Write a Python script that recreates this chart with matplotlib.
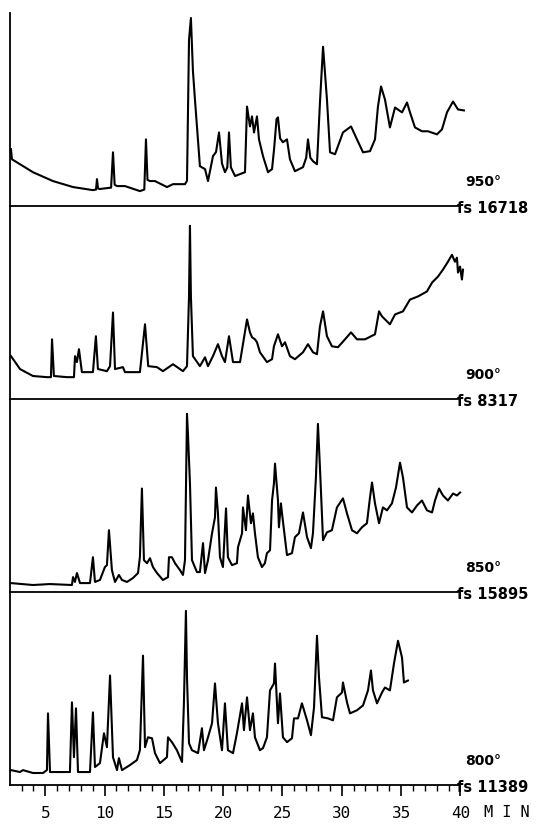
import numpy as np
import matplotlib
matplotlib.use("Agg")
import matplotlib.pyplot as plt

# retention time (min) and signal (% of full scale)
t950 = [2.11, 2.19, 3.96, 5.65, 7.34, 9.02, 9.28, 9.36, 9.45, 9.61, 10.55, 10.71, 10.85, 11.05, 11.72,
        12.98, 13.35, 13.49, 13.62, 13.83, 14.25, 15.26, 15.77, 16.78, 16.95, 17.12, 17.28, 17.45,
        17.62, 18.04, 18.47, 18.72, 19.14, 19.4, 19.65, 19.9, 20.15, 20.35, 20.49, 20.65, 21.0,
        21.84, 22.01, 22.26, 22.43, 22.6, 22.85, 23.02, 23.36, 23.78, 24.12, 24.3, 24.5, 24.62,
        24.8, 25.04, 25.38, 25.63, 26.05, 26.73, 27.0, 27.15, 27.35, 27.57, 27.91, 28.16, 28.42,
        28.75, 29.01, 29.43, 30.1, 30.78, 31.28, 31.79, 32.38, 32.8, 33.05, 33.31, 33.64, 34.06,
        34.49, 35.08, 35.5, 35.75, 36.17, 36.76, 37.27, 38.03, 38.45, 38.87, 39.38, 39.8, 40.3]
y950 = [29.4, 24.2, 17.5, 12.9, 9.8, 8.2, 8.5, 13.9, 9.0, 8.8, 9.5, 27.8, 11.0, 10.3, 10.3,
        7.7, 8.5, 34.5, 13.5, 12.9, 12.9, 9.8, 11.3, 11.3, 13.0, 86.1, 97.4, 70.0,
        55.2, 20.6, 19.1, 12.9, 25.8, 28.0, 38.1, 22.0, 17.5, 20.0, 38.1, 20.0, 15.5,
        17.5, 51.5, 41.2, 46.4, 38.1, 46.4, 34.5, 25.8, 17.5, 19.1, 30.0, 45.0, 45.9,
        35.0, 33.0, 34.5, 24.2, 18.0, 20.1, 25.0, 34.5, 25.0, 23.2, 21.6, 53.6, 82.5,
        55.2, 27.8, 26.8, 38.1, 41.2, 34.5, 27.8, 28.4, 34.5, 51.5, 61.9, 55.2, 40.7,
        51.0, 48.5, 53.6, 48.5, 40.7, 38.7, 38.7, 37.1, 39.7, 48.5, 54.1, 50.0, 49.5]

t900 = [2.11, 2.87, 3.96, 5.14, 5.48, 5.57, 5.73, 6.83, 7.42, 7.51, 7.67, 7.84, 8.09, 9.02, 9.27,
        9.44, 10.2, 10.46, 10.71, 10.88, 11.55, 11.72, 12.98, 13.41, 13.68, 14.42, 14.92, 15.77,
        16.61, 16.95, 17.12, 17.2, 17.28, 17.45, 18.04, 18.47, 18.72, 19.14, 19.56, 19.9, 20.15,
        20.49, 20.83, 21.42, 22.01, 22.26, 22.43, 22.68, 22.85, 23.1, 23.69, 24.12, 24.28, 24.62,
        24.96, 25.21, 25.63, 26.05, 26.73, 27.15, 27.57, 27.91, 28.16, 28.42, 28.75, 29.17, 29.68,
        30.27, 30.78, 31.28, 31.96, 32.8, 33.14, 33.39, 34.06, 34.49, 35.16, 35.75, 36.42, 37.18,
        37.61, 38.11, 38.53, 38.95, 39.29, 39.54, 39.71, 39.8, 39.97, 40.13, 40.22]
y900 = [22.2, 15.5, 11.9, 11.3, 11.3, 30.9, 11.9, 11.3, 11.3, 22.2, 19.1, 25.8, 13.9, 13.9, 32.5,
        15.5, 14.4, 17.0, 44.8, 15.5, 16.5, 13.9, 13.9, 38.7, 17.0, 16.5, 14.4, 18.0,
        14.4, 17.0, 53.1, 89.7, 53.1, 22.2, 17.0, 21.6, 17.0, 22.2, 28.4, 22.2, 19.1,
        32.5, 19.1, 19.1, 41.2, 34.5, 32.0, 30.9, 29.4, 24.2, 19.1, 20.6, 27.3, 33.5,
        27.3, 29.4, 22.2, 20.6, 24.2, 28.4, 24.2, 23.2, 37.6, 45.4, 32.5, 27.3, 26.8,
        30.9, 34.5, 30.9, 30.9, 33.5, 45.4, 42.8, 38.7, 43.8, 45.4, 51.5, 53.1, 55.7,
        60.3, 63.4, 67.0, 71.1, 74.7, 71.1, 73.2, 65.5, 68.6, 61.9, 67.0]

t850 = [2.11, 3.96, 5.4, 7.25, 7.34, 7.5, 7.67, 7.93, 8.77, 9.02, 9.19, 9.61, 10.03, 10.2, 10.37,
        10.62, 10.88, 11.21, 11.47, 11.89, 12.39, 12.82, 12.98, 13.15, 13.32, 13.58, 13.83, 14.08,
        14.42, 14.92, 15.35, 15.43, 15.68, 15.94, 16.36, 16.61, 16.78, 16.95, 17.03, 17.2, 17.37,
        17.79, 18.04, 18.3, 18.47, 18.72, 19.06, 19.31, 19.39, 19.56, 19.73, 19.98, 20.24, 20.4,
        20.74, 21.16, 21.25, 21.59, 21.67, 21.92, 22.09, 22.34, 22.51, 22.68, 22.93, 23.27, 23.52,
        23.69, 23.95, 24.12, 24.28, 24.37, 24.62, 24.7, 24.87, 24.96, 25.38, 25.8, 26.05, 26.39,
        26.73, 27.07, 27.4, 27.57, 27.82, 27.99, 28.16, 28.42, 28.75, 29.17, 29.59, 30.1, 30.44,
        30.86, 31.28, 31.7, 32.12, 32.38, 32.55, 32.8, 33.14, 33.47, 33.81, 34.23, 34.57, 34.91,
        35.16, 35.5, 35.92, 36.34, 36.76, 37.18, 37.61, 37.86, 38.2, 38.53, 38.95, 39.38, 39.71,
        39.97]
y850 = [4.6, 3.6, 4.1, 3.6, 7.7, 5.2, 9.8, 4.6, 4.6, 18.0, 5.2, 6.2, 12.9, 13.9, 32.0,
        11.3, 5.2, 8.8, 6.2, 5.2, 7.2, 9.8, 18.0, 53.6, 16.5, 14.9, 17.5, 12.9,
        9.8, 6.2, 7.7, 18.0, 18.0, 14.9, 11.3, 8.8, 16.5, 92.3, 82.0, 56.2, 16.5,
        10.3, 10.3, 25.3, 9.8, 16.5, 30.4, 38.7, 54.1, 40.7, 18.0, 12.9, 43.3, 18.0,
        13.9, 14.9, 23.2, 30.4, 43.8, 32.0, 50.0, 35.6, 40.7, 30.4, 18.0, 12.9, 14.9,
        20.1, 21.6, 47.4, 56.2, 66.5, 47.4, 33.5, 45.9, 40.7, 19.1, 20.1, 28.4, 30.4,
        41.2, 28.4, 22.7, 30.4, 59.3, 87.1, 64.4, 26.8, 30.9, 32.0, 43.8, 48.5, 40.7,
        32.0, 30.4, 33.5, 35.6, 49.0, 56.7, 45.9, 35.6, 43.8, 42.3, 45.9, 54.1, 67.0,
        59.3, 43.8, 41.2, 44.8, 47.4, 42.3, 41.2, 47.4, 53.6, 50.0, 47.4, 51.0, 50.0,
        51.5]

t800 = [2.11, 2.87, 3.12, 3.96, 4.81, 5.14, 5.23, 5.4, 7.08, 7.25, 7.42, 7.59, 7.76, 8.77, 9.02,
        9.19, 9.61, 9.95, 10.2, 10.46, 10.71, 11.05, 11.21, 11.47, 12.14, 12.73, 12.98, 13.24,
        13.41, 13.66, 14.0, 14.25, 14.67, 15.26, 15.35, 15.68, 16.1, 16.53, 16.69, 16.86, 16.95,
        17.12, 17.37, 17.88, 18.21, 18.38, 18.72, 19.06, 19.31, 19.56, 19.9, 20.15, 20.4, 20.83,
        21.16, 21.59, 21.75, 22.01, 22.26, 22.51, 22.68, 23.1, 23.36, 23.69, 23.95, 24.28, 24.37,
        24.62, 24.79, 25.04, 25.38, 25.8, 25.97, 26.31, 26.64, 27.07, 27.4, 27.66, 27.91, 28.08,
        28.33, 28.84, 29.26, 29.59, 30.02, 30.1, 30.44, 30.69, 31.28, 31.79, 32.21, 32.46, 32.63,
        32.97, 33.39, 33.64, 34.06, 34.4, 34.74, 35.08, 35.24, 35.58]
y800 = [7.7, 6.7, 7.7, 6.2, 6.2, 7.7, 37.1, 6.7, 6.7, 42.8, 14.4, 39.7, 6.7, 6.7, 37.6,
        9.3, 11.3, 26.8, 19.6, 56.7, 14.4, 7.7, 13.9, 7.7, 10.3, 12.9, 18.0, 67.0,
        19.6, 24.7, 24.2, 16.5, 11.3, 14.4, 24.7, 22.2, 18.0, 11.9, 42.3, 90.2, 55.7,
        21.6, 18.0, 16.5, 29.4, 18.0, 24.7, 32.0, 52.6, 32.0, 18.0, 42.3, 18.0, 16.5,
        26.8, 42.3, 28.4, 45.4, 28.4, 37.1, 24.7, 18.0, 19.1, 24.7, 49.0, 52.6, 62.9,
        32.0, 47.4, 24.7, 22.2, 24.2, 34.5, 34.5, 42.3, 33.5, 25.8, 40.2, 77.3, 55.7,
        35.1, 34.5, 33.5, 45.4, 47.9, 53.1, 42.8, 37.1, 38.7, 41.2, 49.0, 59.3, 49.0,
        42.3, 47.9, 50.5, 49.0, 62.9, 74.7, 66.0, 53.1, 54.1]

temps = ["950°", "900°", "850°", "800°"]
full_scale = ["fs 16718", "fs 8317", "fs 15895", "fs 11389"]
times = [t950, t900, t850, t800]
signals = [y950, y900, y850, y800]
major = [5, 10, 15, 20, 25, 30, 35, 40]

fig, axes = plt.subplots(4, 1, sharex=True, figsize=(5.5, 8.31), dpi=100)
fig.subplots_adjust(left=0.0176, right=0.85, bottom=0.0554, top=0.9844, hspace=0)

for i, ax in enumerate(axes):
    ax.patch.set_visible(False)  # don't hide the baseline of the panel above
    ax.plot(times[i], signals[i], color="black", lw=1.5, solid_joinstyle="round", clip_on=False)
    ax.set_xlim(2, 40.6)
    ax.set_ylim(0, 100)
    ax.spines["top"].set_visible(False)
    ax.spines["right"].set_visible(False)
    ax.spines["left"].set_linewidth(1.3)
    ax.spines["bottom"].set_linewidth(1.3)
    ax.spines["bottom"].set_bounds(2, 39.8 if i < 3 else 40)
    ax.set_yticks([])
    ax.text(40.4, 12.5, temps[i], fontsize=10, fontweight="bold", ha="left", va="center")
    ax.text(39.75, -1.2, full_scale[i], fontsize=10.5, fontweight="bold", ha="left", va="center")

ax = axes[-1]
ax.set_xticks(major)
ax.set_xticks(np.arange(3, 40), minor=True)
ax.set_xticklabels([str(m) for m in major], family="DejaVu Sans Mono", fontsize=11.5)
ax.tick_params(axis="x", which="major", length=8, width=1.2, pad=7)
ax.tick_params(axis="x", which="minor", length=4, width=1.0)
for a in axes[:3]:
    a.tick_params(axis="x", which="both", bottom=False, labelbottom=False)
ax.text(43.9, -0.145, "M I N", transform=ax.get_xaxis_transform(),
        family="DejaVu Sans Mono", fontsize=11, ha="center", va="center")

fig.savefig("out.png", dpi=100)
